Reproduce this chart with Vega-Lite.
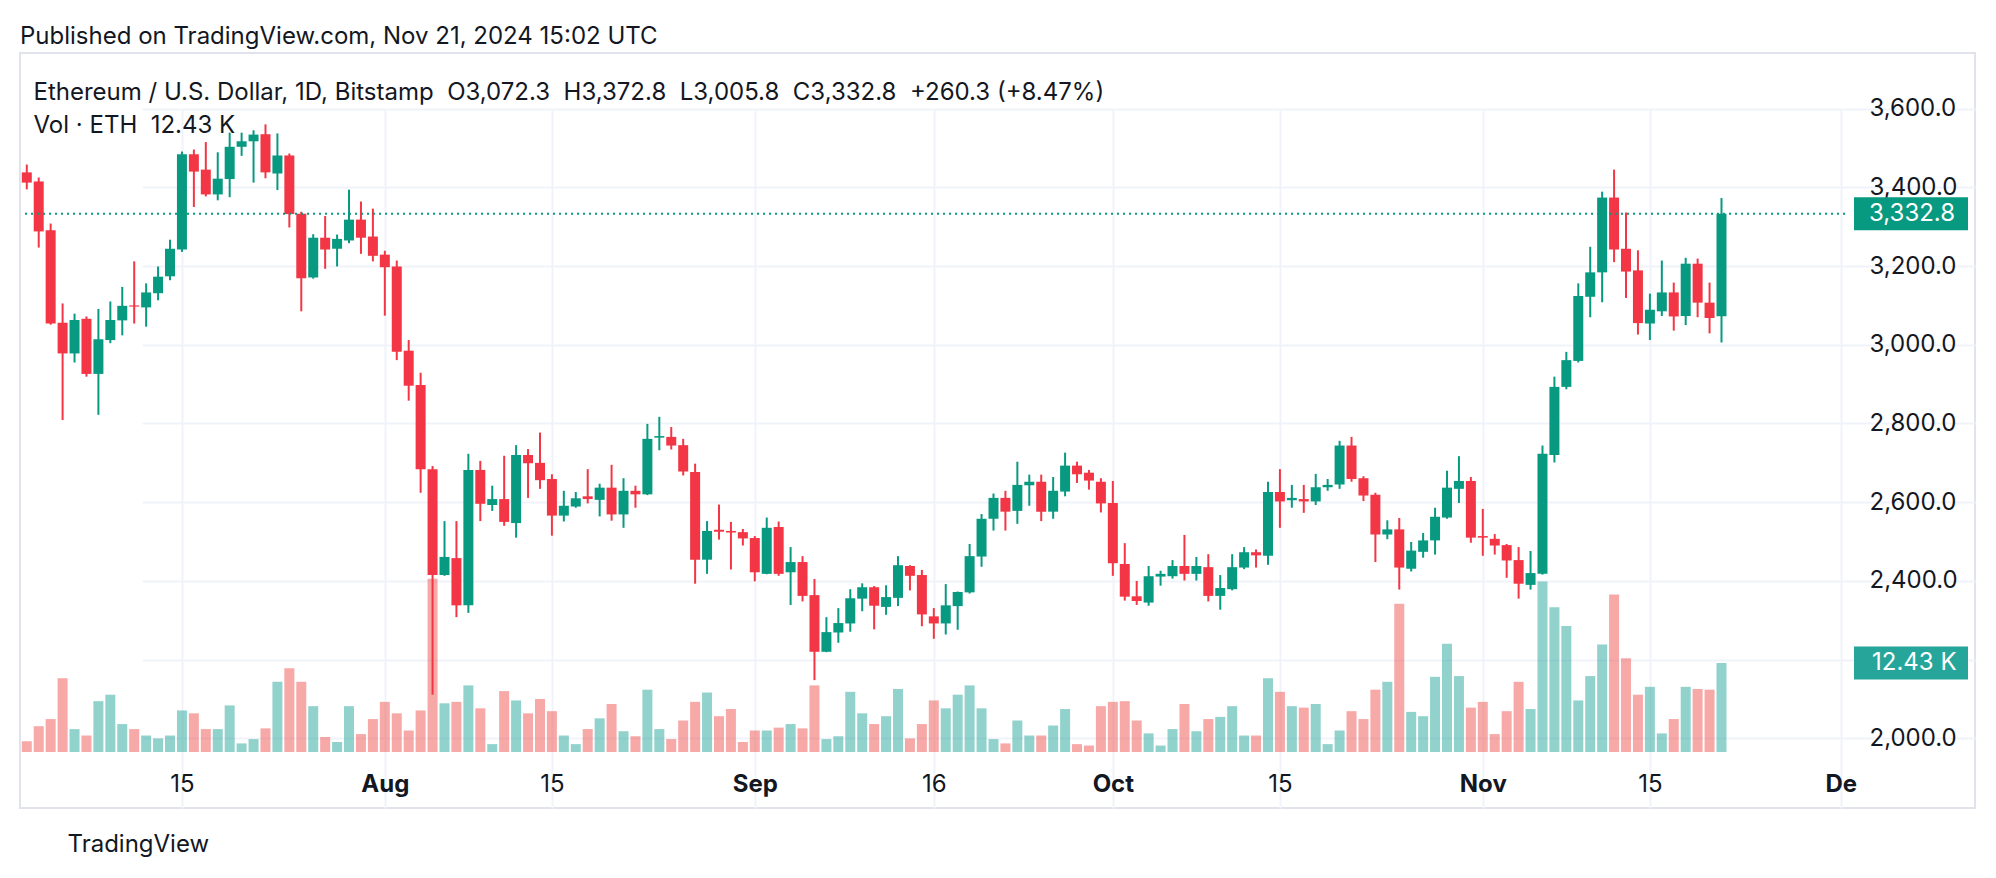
{
"$schema": "https://vega.github.io/schema/vega-lite/v6.json",
"width": 1955, "height": 755,
"autosize": "none",
"padding": {"left": 20, "top": 53, "right": 21, "bottom": 70},
"background": "#ffffff",
"config": {"font": "Inter", "view": {"stroke": "#e0e3eb", "strokeWidth": 2}},
"title": {
 "text": "Published on TradingView.com, Nov 21, 2024 15:02 UTC",
 "subtitle": ["\u200b\u00a0\u00a0Ethereum / U.S. Dollar, 1D, Bitstamp\u00a0\u00a0O3,072.3\u00a0\u00a0H3,372.8\u00a0\u00a0L3,005.8\u00a0\u00a0C3,332.8\u00a0\u00a0+260.3 (+8.47%)", "\u200b\u00a0\u00a0Vol · ETH\u00a0\u00a012.43 K"],
 "anchor": "start", "frame": "group", "orient": "top",
 "font": "Inter", "fontSize": 24, "fontWeight": "normal", "color": "#131722",
 "subtitleFont": "Inter", "subtitleFontSize": 24, "subtitleColor": "#131722",
 "subtitleLineHeight": 33, "subtitlePadding": 32, "offset": -85
},
"data": {"values": [
{"date":"2024-07-02","open":3438,"high":3458,"low":3395,"close":3412,"volume":1.5},
{"date":"2024-07-03","open":3415,"high":3425,"low":3247,"close":3288,"volume":3.6},
{"date":"2024-07-04","open":3291,"high":3308,"low":3051,"close":3054,"volume":4.6},
{"date":"2024-07-05","open":3056,"high":3105,"low":2809,"close":2978,"volume":10.3},
{"date":"2024-07-06","open":2978,"high":3079,"low":2955,"close":3063,"volume":3.2},
{"date":"2024-07-07","open":3066,"high":3072,"low":2919,"close":2926,"volume":2.3},
{"date":"2024-07-08","open":2926,"high":3091,"low":2822,"close":3014,"volume":7.1},
{"date":"2024-07-09","open":3012,"high":3110,"low":3004,"close":3063,"volume":8.0},
{"date":"2024-07-10","open":3062,"high":3147,"low":3024,"close":3099,"volume":3.9},
{"date":"2024-07-11","open":3100,"high":3212,"low":3054,"close":3097,"volume":3.2},
{"date":"2024-07-12","open":3095,"high":3156,"low":3046,"close":3133,"volume":2.3},
{"date":"2024-07-13","open":3131,"high":3199,"low":3113,"close":3173,"volume":1.9},
{"date":"2024-07-14","open":3174,"high":3267,"low":3164,"close":3244,"volume":2.3},
{"date":"2024-07-15","open":3242,"high":3491,"low":3236,"close":3484,"volume":5.8},
{"date":"2024-07-16","open":3484,"high":3496,"low":3350,"close":3440,"volume":5.4},
{"date":"2024-07-17","open":3445,"high":3515,"low":3377,"close":3382,"volume":3.2},
{"date":"2024-07-18","open":3382,"high":3489,"low":3367,"close":3422,"volume":3.2},
{"date":"2024-07-19","open":3421,"high":3539,"low":3375,"close":3503,"volume":6.5},
{"date":"2024-07-20","open":3503,"high":3539,"low":3480,"close":3517,"volume":1.2},
{"date":"2024-07-21","open":3517,"high":3545,"low":3412,"close":3534,"volume":1.8},
{"date":"2024-07-22","open":3535,"high":3560,"low":3423,"close":3438,"volume":3.3},
{"date":"2024-07-23","open":3435,"high":3537,"low":3393,"close":3481,"volume":9.8},
{"date":"2024-07-24","open":3481,"high":3486,"low":3298,"close":3332,"volume":11.7},
{"date":"2024-07-25","open":3333,"high":3338,"low":3085,"close":3169,"volume":9.8},
{"date":"2024-07-26","open":3171,"high":3281,"low":3168,"close":3272,"volume":6.4},
{"date":"2024-07-27","open":3272,"high":3327,"low":3193,"close":3242,"volume":2.1},
{"date":"2024-07-28","open":3244,"high":3280,"low":3199,"close":3269,"volume":1.4},
{"date":"2024-07-29","open":3265,"high":3394,"low":3258,"close":3318,"volume":6.4},
{"date":"2024-07-30","open":3318,"high":3364,"low":3231,"close":3272,"volume":2.5},
{"date":"2024-07-31","open":3275,"high":3346,"low":3212,"close":3226,"volume":4.6},
{"date":"2024-08-01","open":3229,"high":3239,"low":3074,"close":3197,"volume":7.0},
{"date":"2024-08-02","open":3199,"high":3214,"low":2961,"close":2982,"volume":5.4},
{"date":"2024-08-03","open":2985,"high":3012,"low":2858,"close":2896,"volume":3.0},
{"date":"2024-08-04","open":2898,"high":2929,"low":2624,"close":2684,"volume":5.8},
{"date":"2024-08-05","open":2684,"high":2692,"low":2111,"close":2415,"volume":24.2},
{"date":"2024-08-06","open":2415,"high":2552,"low":2413,"close":2461,"volume":6.8},
{"date":"2024-08-07","open":2458,"high":2552,"low":2308,"close":2338,"volume":7.0},
{"date":"2024-08-08","open":2338,"high":2723,"low":2319,"close":2682,"volume":9.3},
{"date":"2024-08-09","open":2682,"high":2705,"low":2552,"close":2596,"volume":6.1},
{"date":"2024-08-10","open":2593,"high":2642,"low":2578,"close":2608,"volume":1.1},
{"date":"2024-08-11","open":2608,"high":2718,"low":2540,"close":2550,"volume":8.5},
{"date":"2024-08-12","open":2547,"high":2745,"low":2510,"close":2720,"volume":7.2},
{"date":"2024-08-13","open":2720,"high":2735,"low":2611,"close":2699,"volume":5.4},
{"date":"2024-08-14","open":2700,"high":2777,"low":2634,"close":2656,"volume":7.4},
{"date":"2024-08-15","open":2659,"high":2671,"low":2515,"close":2566,"volume":5.7},
{"date":"2024-08-16","open":2566,"high":2629,"low":2551,"close":2591,"volume":2.3},
{"date":"2024-08-17","open":2589,"high":2626,"low":2586,"close":2610,"volume":1.1},
{"date":"2024-08-18","open":2615,"high":2684,"low":2597,"close":2608,"volume":3.2},
{"date":"2024-08-19","open":2606,"high":2647,"low":2564,"close":2637,"volume":4.7},
{"date":"2024-08-20","open":2637,"high":2695,"low":2553,"close":2569,"volume":6.7},
{"date":"2024-08-21","open":2569,"high":2661,"low":2535,"close":2629,"volume":2.9},
{"date":"2024-08-22","open":2629,"high":2642,"low":2586,"close":2620,"volume":2.2},
{"date":"2024-08-23","open":2620,"high":2799,"low":2618,"close":2761,"volume":8.7},
{"date":"2024-08-24","open":2764,"high":2817,"low":2732,"close":2768,"volume":3.2},
{"date":"2024-08-25","open":2766,"high":2791,"low":2734,"close":2744,"volume":1.8},
{"date":"2024-08-26","open":2745,"high":2761,"low":2668,"close":2678,"volume":4.4},
{"date":"2024-08-27","open":2677,"high":2698,"low":2393,"close":2454,"volume":7.0},
{"date":"2024-08-28","open":2454,"high":2552,"low":2418,"close":2527,"volume":8.3},
{"date":"2024-08-29","open":2530,"high":2594,"low":2505,"close":2525,"volume":5.0},
{"date":"2024-08-30","open":2527,"high":2550,"low":2429,"close":2523,"volume":6.0},
{"date":"2024-08-31","open":2524,"high":2532,"low":2490,"close":2508,"volume":1.4},
{"date":"2024-09-01","open":2509,"high":2514,"low":2399,"close":2422,"volume":3.0},
{"date":"2024-09-02","open":2418,"high":2561,"low":2417,"close":2535,"volume":3.0},
{"date":"2024-09-03","open":2537,"high":2551,"low":2413,"close":2418,"volume":3.4},
{"date":"2024-09-04","open":2422,"high":2486,"low":2339,"close":2448,"volume":3.9},
{"date":"2024-09-05","open":2448,"high":2463,"low":2348,"close":2362,"volume":3.3},
{"date":"2024-09-06","open":2364,"high":2405,"low":2148,"close":2220,"volume":9.3},
{"date":"2024-09-07","open":2220,"high":2308,"low":2219,"close":2270,"volume":1.8},
{"date":"2024-09-08","open":2269,"high":2331,"low":2243,"close":2293,"volume":2.2},
{"date":"2024-09-09","open":2292,"high":2379,"low":2271,"close":2356,"volume":8.4},
{"date":"2024-09-10","open":2355,"high":2394,"low":2323,"close":2384,"volume":5.4},
{"date":"2024-09-11","open":2384,"high":2387,"low":2277,"close":2337,"volume":3.9},
{"date":"2024-09-12","open":2334,"high":2389,"low":2314,"close":2359,"volume":5.0},
{"date":"2024-09-13","open":2357,"high":2463,"low":2336,"close":2440,"volume":8.8},
{"date":"2024-09-14","open":2438,"high":2440,"low":2376,"close":2413,"volume":1.9},
{"date":"2024-09-15","open":2415,"high":2428,"low":2285,"close":2315,"volume":3.9},
{"date":"2024-09-16","open":2310,"high":2331,"low":2253,"close":2292,"volume":7.2},
{"date":"2024-09-17","open":2292,"high":2392,"low":2264,"close":2338,"volume":6.1},
{"date":"2024-09-18","open":2336,"high":2373,"low":2276,"close":2372,"volume":8.0},
{"date":"2024-09-19","open":2371,"high":2494,"low":2368,"close":2463,"volume":9.3},
{"date":"2024-09-20","open":2462,"high":2570,"low":2436,"close":2558,"volume":6.1},
{"date":"2024-09-21","open":2558,"high":2622,"low":2528,"close":2611,"volume":1.8},
{"date":"2024-09-22","open":2611,"high":2629,"low":2528,"close":2576,"volume":1.2},
{"date":"2024-09-23","open":2578,"high":2703,"low":2545,"close":2644,"volume":4.4},
{"date":"2024-09-24","open":2643,"high":2670,"low":2591,"close":2652,"volume":2.3},
{"date":"2024-09-25","open":2652,"high":2670,"low":2552,"close":2576,"volume":2.3},
{"date":"2024-09-26","open":2576,"high":2664,"low":2558,"close":2629,"volume":3.7},
{"date":"2024-09-27","open":2627,"high":2726,"low":2615,"close":2693,"volume":6.0},
{"date":"2024-09-28","open":2693,"high":2703,"low":2649,"close":2671,"volume":1.1},
{"date":"2024-09-29","open":2675,"high":2682,"low":2632,"close":2655,"volume":0.9},
{"date":"2024-09-30","open":2652,"high":2661,"low":2574,"close":2597,"volume":6.4},
{"date":"2024-10-01","open":2598,"high":2654,"low":2413,"close":2445,"volume":7.0},
{"date":"2024-10-02","open":2443,"high":2496,"low":2350,"close":2360,"volume":7.1},
{"date":"2024-10-03","open":2361,"high":2400,"low":2339,"close":2349,"volume":4.4},
{"date":"2024-10-04","open":2345,"high":2438,"low":2337,"close":2412,"volume":2.6},
{"date":"2024-10-05","open":2411,"high":2426,"low":2388,"close":2418,"volume":0.9},
{"date":"2024-10-06","open":2412,"high":2453,"low":2406,"close":2438,"volume":3.2},
{"date":"2024-10-07","open":2438,"high":2517,"low":2401,"close":2418,"volume":6.7},
{"date":"2024-10-08","open":2418,"high":2461,"low":2401,"close":2438,"volume":2.9},
{"date":"2024-10-09","open":2435,"high":2468,"low":2348,"close":2362,"volume":4.6},
{"date":"2024-10-10","open":2362,"high":2415,"low":2327,"close":2382,"volume":4.9},
{"date":"2024-10-11","open":2379,"high":2468,"low":2376,"close":2435,"volume":6.4},
{"date":"2024-10-12","open":2434,"high":2486,"low":2430,"close":2473,"volume":2.3},
{"date":"2024-10-13","open":2473,"high":2480,"low":2434,"close":2465,"volume":2.3},
{"date":"2024-10-14","open":2464,"high":2652,"low":2441,"close":2626,"volume":10.3},
{"date":"2024-10-15","open":2626,"high":2684,"low":2535,"close":2602,"volume":8.4},
{"date":"2024-10-16","open":2605,"high":2644,"low":2586,"close":2611,"volume":6.4},
{"date":"2024-10-17","open":2608,"high":2644,"low":2573,"close":2602,"volume":6.2},
{"date":"2024-10-18","open":2602,"high":2672,"low":2593,"close":2638,"volume":6.7},
{"date":"2024-10-19","open":2638,"high":2659,"low":2629,"close":2644,"volume":1.1},
{"date":"2024-10-20","open":2645,"high":2756,"low":2634,"close":2744,"volume":3.0},
{"date":"2024-10-21","open":2744,"high":2766,"low":2652,"close":2659,"volume":5.7},
{"date":"2024-10-22","open":2661,"high":2666,"low":2603,"close":2617,"volume":4.6},
{"date":"2024-10-23","open":2619,"high":2624,"low":2448,"close":2518,"volume":8.7},
{"date":"2024-10-24","open":2518,"high":2554,"low":2506,"close":2531,"volume":9.8},
{"date":"2024-10-25","open":2531,"high":2560,"low":2378,"close":2434,"volume":20.7},
{"date":"2024-10-26","open":2431,"high":2499,"low":2424,"close":2477,"volume":5.6},
{"date":"2024-10-27","open":2474,"high":2522,"low":2459,"close":2503,"volume":5.0},
{"date":"2024-10-28","open":2503,"high":2586,"low":2467,"close":2563,"volume":10.5},
{"date":"2024-10-29","open":2561,"high":2680,"low":2558,"close":2637,"volume":15.1},
{"date":"2024-10-30","open":2634,"high":2717,"low":2598,"close":2654,"volume":10.6},
{"date":"2024-10-31","open":2654,"high":2664,"low":2497,"close":2510,"volume":6.2},
{"date":"2024-11-01","open":2514,"high":2583,"low":2464,"close":2510,"volume":7.0},
{"date":"2024-11-02","open":2507,"high":2519,"low":2467,"close":2490,"volume":2.5},
{"date":"2024-11-03","open":2491,"high":2494,"low":2408,"close":2452,"volume":5.7},
{"date":"2024-11-04","open":2453,"high":2486,"low":2355,"close":2393,"volume":9.8},
{"date":"2024-11-05","open":2390,"high":2476,"low":2378,"close":2420,"volume":6.0},
{"date":"2024-11-06","open":2418,"high":2744,"low":2416,"close":2723,"volume":23.8},
{"date":"2024-11-07","open":2720,"high":2919,"low":2701,"close":2893,"volume":20.2},
{"date":"2024-11-08","open":2893,"high":2982,"low":2887,"close":2961,"volume":17.6},
{"date":"2024-11-09","open":2959,"high":3156,"low":2955,"close":3124,"volume":7.2},
{"date":"2024-11-10","open":3122,"high":3249,"low":3070,"close":3184,"volume":10.6},
{"date":"2024-11-11","open":3184,"high":3389,"low":3108,"close":3374,"volume":15.0},
{"date":"2024-11-12","open":3374,"high":3445,"low":3210,"close":3242,"volume":22.0},
{"date":"2024-11-13","open":3244,"high":3336,"low":3119,"close":3186,"volume":13.1},
{"date":"2024-11-14","open":3189,"high":3240,"low":3026,"close":3055,"volume":8.0},
{"date":"2024-11-15","open":3054,"high":3130,"low":3012,"close":3089,"volume":9.1},
{"date":"2024-11-16","open":3085,"high":3214,"low":3073,"close":3133,"volume":2.6},
{"date":"2024-11-17","open":3133,"high":3158,"low":3036,"close":3072,"volume":4.6},
{"date":"2024-11-18","open":3073,"high":3221,"low":3050,"close":3206,"volume":9.1},
{"date":"2024-11-19","open":3206,"high":3219,"low":3070,"close":3107,"volume":8.8},
{"date":"2024-11-20","open":3107,"high":3158,"low":3029,"close":3068,"volume":8.7},
{"date":"2024-11-21","open":3072.3,"high":3372.8,"low":3005.8,"close":3332.8,"volume":12.43}
]},
"encoding": {
 "x": {"field": "date", "type": "temporal",
  "scale": {"type": "utc", "domain": [{"year": 2024, "month": "jul", "date": 1, "hours": 20, "minutes": 24, "utc": true}, {"year": 2024, "month": "dec", "date": 1, "hours": 14, "minutes": 24, "utc": true}], "range": [0, 1833]},
  "axis": {"orient": "bottom", "offset": -56,
   "values": [{"year": 2024, "month": "jul", "date": 15, "utc": true}, {"year": 2024, "month": "aug", "date": 1, "utc": true}, {"year": 2024, "month": "aug", "date": 15, "utc": true}, {"year": 2024, "month": "sep", "date": 1, "utc": true}, {"year": 2024, "month": "sep", "date": 16, "utc": true}, {"year": 2024, "month": "oct", "date": 1, "utc": true}, {"year": 2024, "month": "oct", "date": 15, "utc": true}, {"year": 2024, "month": "nov", "date": 1, "utc": true}, {"year": 2024, "month": "nov", "date": 15, "utc": true}, {"year": 2024, "month": "dec", "date": 1, "utc": true}],
   "labelExpr": "utcdate(datum.value) == 1 ? (utcmonth(datum.value) == 11 ? 'De' : utcFormat(datum.value, '%b')) : utcFormat(datum.value, '%-d')",
   "labelFontWeight": {"condition": {"test": "utcdate(datum.value) == 1", "value": "bold"}, "value": "normal"},
   "labelFont": "Inter", "labelFontSize": 24, "labelColor": "#131722", "labelPadding": 39, "labelBaseline": "alphabetic",
   "ticks": false, "tickSize": 0, "domain": false, "grid": true, "gridColor": "#f0f3fa", "gridWidth": 2,
   "labelOverlap": false, "labelFlush": false,
   "title": "TradingView", "titleX": 47, "titleY": 99, "titleAlign": "left", "titleAnchor": "start", "titleBaseline": "alphabetic",
   "titleFont": "Inter", "titleFontSize": 24, "titleFontWeight": "normal", "titleColor": "#131722"}
 }
},
"layer": [
 {"mark": {"type": "bar", "width": 10, "clip": true, "opacity": 0.5},
  "encoding": {
   "y": {"field": "volume", "type": "quantitative", "scale": {"domain": [0, 97.6], "range": [699, 0]}, "axis": null},
   "color": {"condition": {"test": "datum.close >= datum.open", "value": "#26a69a"}, "value": "#ef5350"}
  }},
 {"mark": {"type": "rule", "strokeWidth": 2, "clip": true},
  "encoding": {
   "y": {"field": "low", "type": "quantitative", "scale": {"domain": [1965.4, 3741.3], "range": [699, 0], "nice": false, "zero": false},
    "axis": {"orient": "right", "offset": -122, "values": [2000, 2200, 2400, 2600, 2800, 3000, 3200, 3400, 3600], "format": ",.1f",
     "labelFont": "Inter", "labelFontSize": 24, "labelColor": "#131722", "labelPadding": 16, "ticks": false, "tickSize": 0, "domain": false,
     "grid": true, "gridColor": "#f0f3fa", "gridWidth": 2, "title": null, "labelFlush": false, "labelOverlap": false}},
   "y2": {"field": "high"},
   "color": {"condition": {"test": "datum.close >= datum.open", "value": "#089981"}, "value": "#f23645"}
  }},
 {"mark": {"type": "bar", "width": 10, "clip": true},
  "encoding": {
   "y": {"field": "open", "type": "quantitative", "scale": {"domain": [1965.4, 3741.3], "range": [699, 0], "nice": false, "zero": false}, "axis": null},
   "y2": {"field": "close"},
   "color": {"condition": {"test": "datum.close >= datum.open", "value": "#089981"}, "value": "#f23645"}
  }},
 {"transform": [{"filter": "datum.close == 3332.8"}],
  "mark": {"type": "rule", "strokeWidth": 2, "strokeDash": [2, 4], "color": "#089981"},
  "encoding": {
   "x": {"datum": {"year": 2024, "month": "jul", "date": 1, "hours": 20, "minutes": 24, "utc": true}, "type": "temporal"},
   "x2": {"datum": {"year": 2024, "month": "dec", "date": 1, "hours": 14, "minutes": 24, "utc": true}},
   "y": {"field": "close", "type": "quantitative", "scale": {"domain": [1965.4, 3741.3], "range": [699, 0], "nice": false, "zero": false}, "axis": null}
  }},
 {"transform": [{"filter": "datum.close == 3332.8"}],
  "mark": {"type": "point", "filled": true, "opacity": 1, "size": 12996, "shape": "M -1 -0.29 L 1 -0.29 L 1 0.29 L -1 0.29 Z", "color": "#089981", "strokeWidth": 0},
  "encoding": {
   "x": {"value": 1891},
   "y": {"field": "close", "type": "quantitative", "scale": {"domain": [1965.4, 3741.3], "range": [699, 0], "nice": false, "zero": false}, "axis": null}
  }},
 {"transform": [{"filter": "datum.close == 3332.8"}],
  "mark": {"type": "text", "align": "left", "baseline": "middle", "font": "Inter", "fontSize": 24, "color": "#ffffff"},
  "encoding": {
   "x": {"value": 1849},
   "y": {"field": "close", "type": "quantitative", "scale": {"domain": [1965.4, 3741.3], "range": [699, 0], "nice": false, "zero": false}, "axis": null},
   "text": {"field": "close", "format": ",.1f"}
  }},
 {"transform": [{"filter": "datum.close == 3332.8"}],
  "mark": {"type": "point", "filled": true, "opacity": 1, "size": 12996, "shape": "M -1 -0.29 L 1 -0.29 L 1 0.29 L -1 0.29 Z", "color": "#26a69a", "strokeWidth": 0},
  "encoding": {
   "x": {"value": 1891},
   "y": {"field": "volume", "type": "quantitative", "scale": {"domain": [0, 97.6], "range": [699, 0]}, "axis": null}
  }},
 {"transform": [{"filter": "datum.close == 3332.8"}],
  "mark": {"type": "text", "align": "left", "baseline": "middle", "font": "Inter", "fontSize": 24, "color": "#ffffff"},
  "encoding": {
   "x": {"value": 1852},
   "y": {"field": "volume", "type": "quantitative", "scale": {"domain": [0, 97.6], "range": [699, 0]}, "axis": null},
   "text": {"value": "12.43 K"}
  }}
],
"resolve": {"scale": {"y": "independent"}, "axis": {"y": "independent"}}
}
